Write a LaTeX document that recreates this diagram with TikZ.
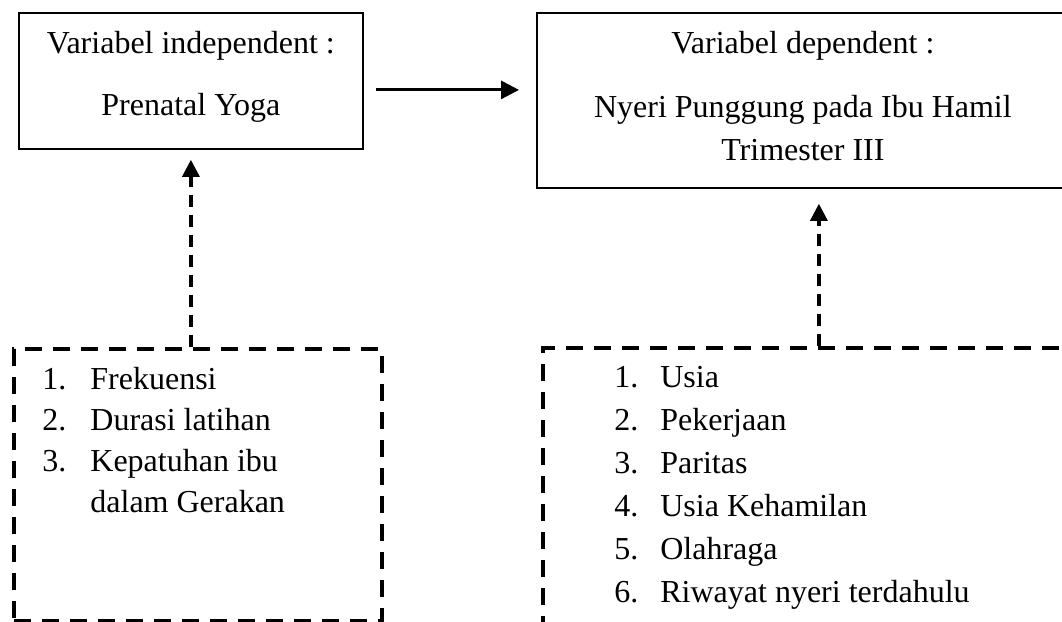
\documentclass[tikz,border=0pt]{standalone}
\usepackage{fontspec}
\setmainfont{Liberation Serif}
\usetikzlibrary{arrows.meta,calc}

\begin{document}
\begin{tikzpicture}[x=0.5pt, y=-0.5pt,
    varbox/.style={draw, line width=0.9pt, inner sep=0pt, anchor=north west},
    factorbox/.style={draw, line width=2pt, dash pattern=on 8.5pt off 5.5pt, inner sep=0pt, anchor=north west},
    boxtxt/.style={inner sep=0pt, anchor=base, font=\fontsize{16}{21.5}\selectfont},
    listtxt/.style={inner sep=0pt, anchor=base west, font=\fontsize{16}{#1}\selectfont},
    flow/.style={-{Triangle[length=9pt, width=9pt]}, line width=1.5pt},
    dashflow/.style={-{Triangle[length=8.5pt, width=8.5pt]}, line width=1.6pt, dash pattern=on 6pt off 4pt}]
    \useasboundingbox (0,0) rectangle (1062,622);
    % Variable boxes
    \node[varbox, minimum width=172pt, minimum height=68pt] (indep) at (18,12) {};
    \node[varbox, minimum width=282pt, minimum height=87.5pt] (dep) at (536,12) {};
    \node[boxtxt] (indeptxt) at ($(indep.north)+(0,41)$)
         {\begin{tabular}[t]{@{}c@{}}Variabel independent :\\[9.5pt] Prenatal Yoga\end{tabular}};
    \node[boxtxt] (deptxt) at ($(dep.north)+(-16,41)$)
         {\begin{tabular}[t]{@{}c@{}}Variabel dependent :\\[10.5pt] Nyeri Punggung pada Ibu Hamil\\ Trimester III\end{tabular}};
    % Factor boxes (dashed)
    \node[factorbox, minimum width=184pt, minimum height=136pt] (fakA) at (12,347) {};
    \node[factorbox, minimum width=280pt, minimum height=160pt] (fakB) at (541,346) {};
    \node[listtxt=20.5pt] (fakAtxt) at ($(fakA.north west)+(30,42)$)
         {\begin{tabular}[t]{@{}p{24pt}@{}l@{}}
           1. & Frekuensi\\
           2. & Durasi latihan\\
           3. & Kepatuhan ibu\\
              & dalam Gerakan
          \end{tabular}};
    \node[listtxt=21.5pt] (fakBtxt) at ($(fakB.north west)+(73,41)$)
         {\begin{tabular}[t]{@{}p{23pt}@{}l@{}}
           1. & Usia\\
           2. & Pekerjaan\\
           3. & Paritas\\
           4. & Usia Kehamilan\\
           5. & Olahraga\\
           6. & Riwayat nyeri terdahulu
          \end{tabular}};
    % Arrows
    \draw[flow] ($(indep.east)+(12,9)$) -- ($(dep.west |- indep.east)+(-17,9)$);
    \draw[dashflow] (indep.south |- fakA.north) -- ([yshift=-5pt]indep.south);
    \draw[dashflow] (dep.south |- fakB.north) -- ([yshift=-7.5pt]dep.south);
\end{tikzpicture}
\end{document}
